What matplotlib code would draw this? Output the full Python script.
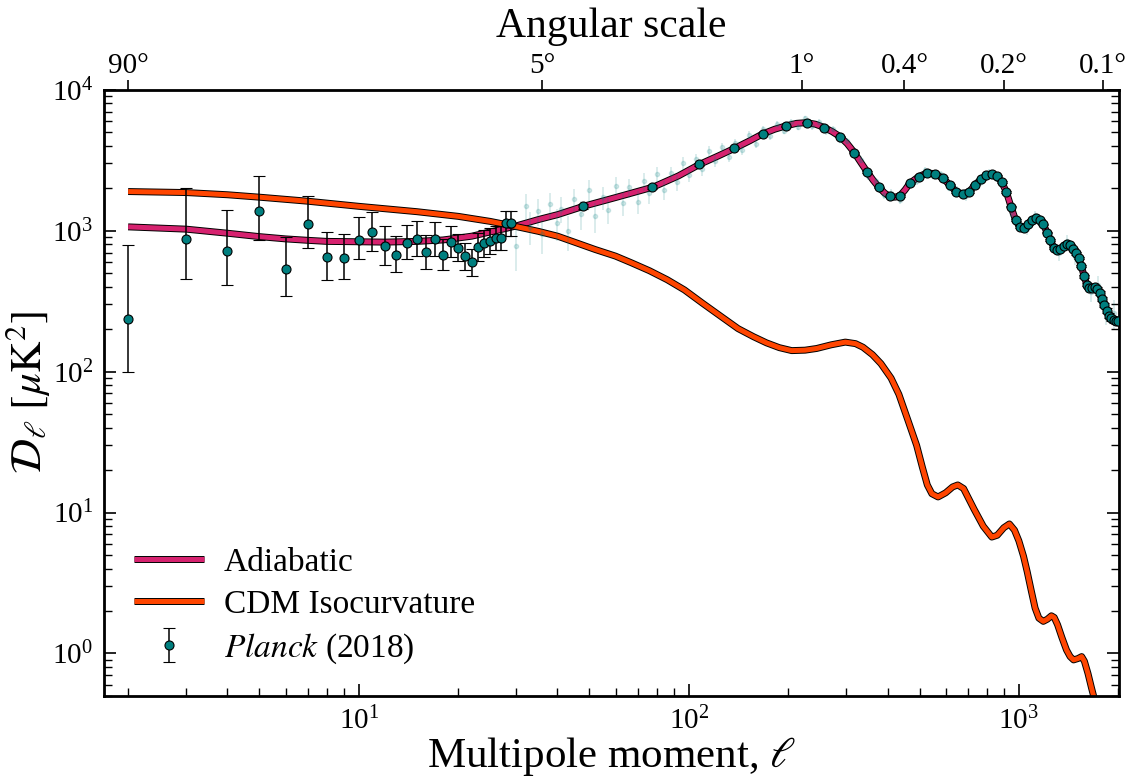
import numpy as np
import matplotlib
matplotlib.use('Agg')
import matplotlib.pyplot as plt
import matplotlib.patheffects as pe
from matplotlib.ticker import NullLocator

plt.rcParams['font.family'] = ['Liberation Serif', 'DejaVu Serif']
plt.rcParams['mathtext.fontset'] = 'stix'

# Planck 2018 low-ell points (D_ell, with asymmetric 68% bounds)
ell_low = list(range(2, 30))
D_low = [236, 879, 721, 1387, 536, 1119, 653, 643, 865, 981, 774, 671, 818, 874,
         701, 874, 675, 836, 758, 664, 598, 765, 813, 841, 894, 888, 1132, 1132]
D_low_hi = [796, 2017, 1410, 2459, 902, 1759, 987, 955, 1250, 1364, 1077, 918, 1101, 1164,
            929, 1145, 869, 1072, 944, 823, 745, 971, 1014, 1042, 1082, 1080, 1387, 1387]
D_low_lo = [100, 457, 414, 859, 345, 749, 449, 454, 625, 721, 575, 507, 625, 660,
            538, 664, 530, 653, 608, 530, 474, 608, 653, 679, 725, 728, 918, 918]

# Planck 2018 binned high-ell points (delta ell = 30)
ell_bin = [47.7, 77.6, 107.5, 137.5, 167.4, 197.4, 227.3, 257.3, 287.2, 317.2,
           347.1, 377.1, 407, 437, 467, 497, 527, 557, 587, 617,
           647, 677, 707, 737, 767, 797, 827, 857, 887, 917,
           947, 977, 1007, 1037, 1067, 1097, 1127, 1157, 1187, 1217,
           1247, 1277, 1307, 1337, 1367, 1397, 1427, 1457, 1487, 1517,
           1547, 1577, 1607, 1637, 1667, 1697, 1727, 1757, 1787, 1817,
           1847, 1877, 1907, 1937, 1967, 1997]
D_bin = [1492, 2041, 2964, 3856, 4880, 5495, 5830, 5400, 4660, 3590,
         2613, 2028, 1750, 1777, 2167, 2420, 2570, 2540, 2367, 2119,
         1878, 1828, 1888, 2119, 2313, 2472, 2541, 2447, 2217, 1880,
         1480, 1190, 1065, 1042, 1113, 1196, 1230, 1196, 1108, 971,
         859, 753, 728, 745, 778, 809, 787, 736, 690, 638,
         560, 475, 414, 394, 394, 396, 385, 361, 327, 297,
         271, 249, 239, 232, 230, 228]
err_bin = [60, 62, 62, 62, 60, 58, 55, 50, 45, 40,
           35, 30, 28, 28, 28, 28, 28, 27, 26, 25,
           24, 23, 22, 22, 22, 22, 22, 21, 20, 19,
           17, 16, 15, 15, 15, 15, 15, 14, 14, 13,
           13, 12, 12, 12, 12, 12, 12, 12, 12, 12,
           11, 11, 11, 11, 11, 11, 11, 11, 10, 10,
           10, 10, 10, 10, 10, 10]

# unbinned Planck points (faint background)
ell_faint = [30, 32, 33, 35, 36, 38, 40, 41, 43, 45, 47, 50, 52, 55, 57, 60, 63, 66, 70, 73,
             76, 80, 84, 88, 92, 96, 100, 105, 110, 115, 120, 126, 132, 138, 145, 152, 160, 168,
             176, 185, 194, 204, 214, 225, 236, 248, 260, 273, 287, 301, 316, 332, 350, 370,
             390, 410, 435, 460, 490, 520, 550, 580, 615, 650, 690, 730, 770, 810, 850, 900,
             950, 1000, 1060, 1120, 1180, 1250, 1320, 1400, 1480, 1560, 1650, 1740, 1840, 1940]
D_faint = [780, 1500, 1070, 1380, 950, 1540, 1130, 1430, 1000, 1670, 1320, 1960, 1270, 1730,
           1410, 2070, 1580, 2030, 1610, 2240, 1860, 2520, 1940, 2550, 2200, 3000, 2500, 3230,
           2740, 3660, 3140, 3920, 3360, 4180, 3770, 4770, 4140, 5240, 4740, 5720, 5130, 5940,
           5460, 6260, 5510, 5880, 5080, 5250, 4420, 4360, 3440, 3200, 2430, 2240, 1790, 1860,
           1660, 2170, 2250, 2680, 2460, 2520, 2020, 1960, 1750, 2160, 2210, 2610, 2360, 2220,
           1310, 1130, 1030, 1290, 1090, 900, 690, 850, 650, 545, 370, 415, 275, 260]
err_faint = [260, 330, 280, 300, 270, 320, 290, 300, 280, 320, 300, 330, 300, 320, 300, 320,
             300, 310, 300, 320, 300, 320, 300, 300, 300, 310, 300, 300, 300, 310, 300, 300,
             300, 300, 300, 300, 300, 300, 300, 300, 300, 300, 300, 300, 290, 280, 270, 260,
             240, 220, 200, 170, 150, 130, 120, 120, 120, 120, 130, 130, 130, 130, 120, 120,
             120, 120, 130, 140, 140, 140, 110, 100, 100, 100, 100, 90, 80, 80, 80, 70,
             60, 60, 60, 60]

# adiabatic model curve
ell_ad = [2, 3, 4, 5, 6, 7, 8, 10, 12, 15, 18, 20, 22, 25, 28, 30, 35, 40, 48, 60,
          78, 93, 108, 123, 138, 153, 167, 182, 197, 212, 227, 242, 257, 272, 287, 302,
          317, 332, 347, 362, 377, 392, 407, 422, 437, 452, 467, 497, 527, 557, 587, 617,
          647, 677, 707, 737, 767, 797, 827, 857, 887, 917, 947, 977, 1007, 1037, 1067,
          1097, 1127, 1157, 1187, 1217, 1247, 1277, 1307, 1337, 1367, 1397, 1427, 1457,
          1487, 1517, 1547, 1577, 1607, 1637, 1667, 1697, 1727, 1757, 1787, 1817, 1847,
          1877, 1907, 1937, 1967, 1997, 2030]
D_ad = [1065, 1026, 960, 908, 875, 855, 840, 835, 830, 840, 860, 888, 915, 980, 1040, 1082,
        1200, 1300, 1492, 1720, 2041, 2450, 2964, 3400, 3856, 4350, 4850, 5250, 5550, 5780,
        5850, 5700, 5405, 5050, 4656, 4150, 3594, 3050, 2613, 2280, 2028, 1850, 1747, 1730,
        1777, 1950, 2167, 2420, 2570, 2540, 2367, 2119, 1878, 1828, 1888, 2119, 2313, 2472,
        2541, 2447, 2217, 1880, 1480, 1190, 1065, 1042, 1113, 1196, 1230, 1196, 1108, 971,
        859, 753, 728, 745, 778, 809, 787, 736, 690, 638, 560, 475, 414, 394, 394, 396, 385,
        361, 327, 297, 271, 249, 239, 232, 230, 228, 225]

# CDM isocurvature model curve
ell_iso = [2, 3, 4, 5, 7, 10, 15, 20, 25, 30, 35, 40, 45, 52, 60, 67, 76, 86, 97, 110, 125,
           141, 157, 172, 188, 205, 225, 244, 270, 298, 320, 337, 360, 382, 410, 433, 460,
           490, 510, 528, 545, 569, 600, 630, 653, 680, 731, 780, 828, 860, 900, 936, 970,
           1000, 1033, 1060, 1090, 1120, 1150, 1186, 1220, 1255, 1280, 1310, 1350, 1394,
           1430, 1465, 1510, 1550, 1580, 1620, 1660, 1700, 1740]
D_iso = [1897, 1866, 1800, 1730, 1620, 1490, 1365, 1265, 1165, 1070, 990, 915, 830, 736,
         660, 592, 520, 449, 380, 306, 247, 202, 177, 160, 148, 141, 142, 146, 155, 162, 158,
         149, 132, 114, 90, 69, 46, 30, 21, 15.7, 13.6, 12.9, 13.8, 15.2, 15.7, 14.8, 10.6,
         8.0, 6.7, 6.9, 7.8, 8.3, 7.5, 6.3, 4.9, 3.8, 2.8, 2.1, 1.78, 1.69, 1.75, 1.85,
         1.80, 1.6, 1.3, 1.06, 0.95, 0.90, 0.92, 0.95, 0.88, 0.72, 0.57, 0.46, 0.37]

# top axis: angular scale
top_ell = [2, 36, 220, 450, 900, 1800]
top_labels = ['90°', '5°', '1°', '0.4°', '0.2°', '0.1°']

teal = '#007f7f'
magenta = '#d6226f'
orange = '#ff4500'

fig = plt.figure(figsize=(11.34, 7.81), dpi=100)
ax = fig.add_axes([0.0917, 0.109, 0.895, 0.776])

ax.errorbar(ell_faint, D_faint, yerr=err_faint, fmt='o', ms=3, color=teal,
            alpha=0.17, elinewidth=1.2, capsize=0, zorder=3)

outline = [pe.Stroke(linewidth=5.0, foreground='k'), pe.Normal()]
ax.plot(ell_ad, D_ad, color=magenta, lw=3.6, solid_capstyle='butt',
        path_effects=outline, label='Adiabatic', zorder=2)
ax.plot(ell_iso, D_iso, color=orange, lw=3.6, solid_capstyle='butt',
        path_effects=outline, label='CDM Isocurvature', zorder=2)

yerr_low = [np.array(D_low) - np.array(D_low_lo), np.array(D_low_hi) - np.array(D_low)]
ax.errorbar(ell_low, D_low, yerr=yerr_low, fmt='o', ms=6.5, mfc=teal, mec='k', mew=0.8,
            ecolor='k', elinewidth=1.1, capsize=4.5, capthick=1.1, zorder=4,
            label=r'$\mathit{Planck}$ (2018)')
ax.errorbar(ell_bin, D_bin, yerr=err_bin, fmt='o', ms=6.5, mfc=teal, mec='k', mew=0.8,
            ecolor='k', elinewidth=1.1, capsize=3.5, capthick=1.1, zorder=4)

ax.set_xscale('log')
ax.set_yscale('log')
ax.set_xlim(1.69, 2010)
ax.set_ylim(0.5, 1e4)

for s in ax.spines.values():
    s.set_linewidth(2)
ax.tick_params(which='both', direction='in', top=False, right=True, labelsize=21)
ax.tick_params(which='major', length=8.5, width=1.2, pad=8)
ax.tick_params(which='minor', length=6, width=1)

ax.set_xlabel(r'Multipole moment, $\ell$', fontsize=31, labelpad=0)
ax.set_ylabel(r'$\mathcal{D}_\ell\ [\mu\mathrm{K}^2]$', fontsize=31)
ax.yaxis.set_label_coords(-0.05, 0.5)

ax2 = ax.twiny()
ax2.set_xscale('log')
ax2.set_xlim(ax.get_xlim())
ax2.set_xticks(top_ell)
ax2.set_xticklabels(top_labels)
ax2.xaxis.set_minor_locator(NullLocator())
ax2.tick_params(direction='out', length=7, width=1.2, labelsize=21, pad=0.5)
ax2.set_xlabel('Angular scale', fontsize=30, labelpad=12)

leg = ax.legend(loc='lower left', frameon=False, fontsize=24, handlelength=2.1,
                handletextpad=0.6, labelspacing=0.35, borderaxespad=0.5,
                bbox_to_anchor=(0.0, 0.0))

fig.savefig('out.png', dpi=100)
